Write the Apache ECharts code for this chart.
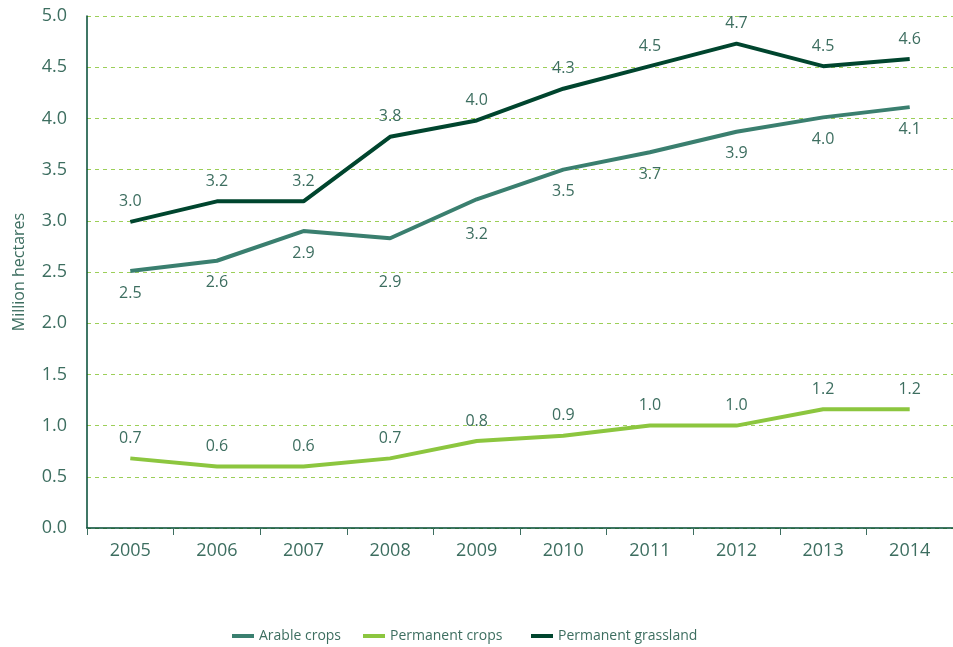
<!DOCTYPE html>
<html>
<head>
<meta charset="utf-8">
<script src="https://cdn.jsdelivr.net/npm/echarts@6/dist/echarts.min.js"></script>
<style>
  html, body { margin: 0; padding: 0; background: #fff; }
  #chart { width: 953px; height: 647px; }
</style>
</head>
<body>
<div id="chart"></div>
<script>
const years = ['2005', '2006', '2007', '2008', '2009', '2010', '2011', '2012', '2013', '2014'];

const arableCrops = [2.51, 2.61, 2.90, 2.83, 3.21, 3.50, 3.67, 3.87, 4.01, 4.11];
const permanentCrops = [0.68, 0.60, 0.60, 0.68, 0.85, 0.90, 1.00, 1.00, 1.16, 1.16];
const permanentGrassland = [2.99, 3.19, 3.19, 3.82, 3.98, 4.29, 4.51, 4.73, 4.51, 4.58];

// printed labels (as in the source figure)
const arableLabels = ['2.5', '2.6', '2.9', '2.9', '3.2', '3.5', '3.7', '3.9', '4.0', '4.1'];
const permanentCropLabels = ['0.7', '0.6', '0.6', '0.7', '0.8', '0.9', '1.0', '1.0', '1.2', '1.2'];
const grasslandLabels = ['3.0', '3.2', '3.2', '3.8', '4.0', '4.3', '4.5', '4.7', '4.5', '4.6'];

const textColor = '#3d6e60';
const font = "'Open Sans', sans-serif";

const chart = echarts.init(document.getElementById('chart'));

const makeSeries = (name, values, labels, color, pos) => ({
  name: name,
  type: 'line',
  data: values.map((v, i) => {
    const item = { value: v, label: { formatter: labels[i] } };
    // a couple of arable labels sit lower in the original
    if (name === 'Arable crops' && i === 3) item.label.distance = 36;
    if (name === 'Arable crops' && i === 4) item.label.distance = 27;
    return item;
  }),
  symbol: 'circle',
  symbolSize: 0,
  showSymbol: true,
  lineStyle: { color: color, width: 4 },
  itemStyle: { color: color },
  label: {
    show: true,
    position: pos,
    distance: pos === 'bottom' ? 14 : 12,
    color: textColor,
    fontSize: 16,
    fontFamily: font
  },
  emphasis: { disabled: true }
});

const legendBase = {
  top: 629,
  padding: 0,
  itemWidth: 22,
  itemHeight: 4,
  icon: 'rect',
  textStyle: { color: textColor, fontSize: 14, fontFamily: font }
};

chart.setOption({
  animation: false,
  grid: { left: 87, right: 0, top: 16, bottom: 119, outerBoundsMode: 'none' },
  legend: [
    Object.assign({ left: 232, data: ['Arable crops'] }, legendBase),
    Object.assign({ left: 363, data: ['Permanent crops'] }, legendBase),
    Object.assign({ left: 531, data: ['Permanent grassland'] }, legendBase)
  ],
  xAxis: {
    type: 'category',
    data: years,
    boundaryGap: true,
    axisLine: { lineStyle: { color: '#004a33', width: 1.5 } },
    axisTick: { show: true, length: 7, lineStyle: { color: '#3d6e60' } },
    axisLabel: { color: textColor, fontSize: 18, fontFamily: font, margin: 14 }
  },
  yAxis: {
    type: 'value',
    min: 0,
    max: 5,
    interval: 0.5,
    name: 'Million hectares',
    nameLocation: 'middle',
    nameGap: 60,
    nameTextStyle: { color: textColor, fontSize: 16, fontFamily: font },
    axisLine: { show: true, lineStyle: { color: '#004a33', width: 1.5 } },
    axisTick: { show: false },
    axisLabel: {
      color: textColor, fontSize: 18, fontFamily: font, margin: 20,
      formatter: v => v.toFixed(1)
    },
    splitLine: { lineStyle: { color: '#9ccf58', type: [4, 4], width: 1 } }
  },
  series: [
    makeSeries('Arable crops', arableCrops, arableLabels, '#3a7f6f', 'bottom'),
    makeSeries('Permanent crops', permanentCrops, permanentCropLabels, '#8cc63f', 'top'),
    makeSeries('Permanent grassland', permanentGrassland, grasslandLabels, '#00452e', 'top')
  ]
});
</script>
</body>
</html>
